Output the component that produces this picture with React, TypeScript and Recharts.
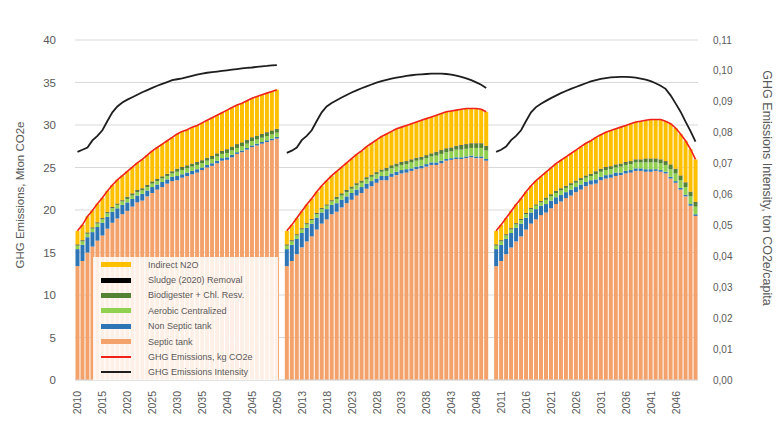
import { Bar, CartesianGrid, ComposedChart, Line, XAxis, YAxis } from "recharts";

const years = [
  2010, 2011, 2012, 2013, 2014, 2015, 2016, 2017, 2018, 2019,
  2020, 2021, 2022, 2023, 2024, 2025, 2026, 2027, 2028, 2029,
  2030, 2031, 2032, 2033, 2034, 2035, 2036, 2037, 2038, 2039,
  2040, 2041, 2042, 2043, 2044, 2045, 2046, 2047, 2048, 2049, 2050
];

// shared by the three scenarios (same reading in each panel)
const nonSeptic = [
  2.0, 1.9, 1.8, 1.7, 1.6, 1.5, 1.4, 1.3, 1.2, 1.1,
  1.0, 0.9, 0.8, 0.8, 0.7, 0.7, 0.6, 0.6, 0.5, 0.5,
  0.5, 0.4, 0.4, 0.4, 0.4, 0.3, 0.3, 0.3, 0.3, 0.3,
  0.3, 0.3, 0.2, 0.2, 0.2, 0.2, 0.2, 0.2, 0.2, 0.2, 0.2
];
const sludge = [
  0.05, 0.05, 0.05, 0.05, 0.05, 0.05, 0.05, 0.05, 0.05, 0.05,
  0.05, 0.05, 0.05, 0.05, 0.05, 0.05, 0.05, 0.05, 0.05, 0.05,
  0.05, 0.05, 0.05, 0.05, 0.05, 0.05, 0.05, 0.05, 0.05, 0.05,
  0.05, 0.05, 0.05, 0.05, 0.05, 0.05, 0.05, 0.05, 0.05, 0.05, 0.05
];

// scenario 1
const septic1 = [
  13.4, 14.0, 15.0, 15.7, 16.4, 17.0, 17.8, 18.5, 19.0, 19.5,
  19.9, 20.4, 20.9, 21.1, 21.6, 22.0, 22.4, 22.7, 23.1, 23.4,
  23.5, 23.8, 24.0, 24.2, 24.4, 24.7, 25.0, 25.2, 25.5, 25.8,
  25.9, 26.2, 26.6, 26.8, 27.1, 27.4, 27.6, 27.8, 28.0, 28.2, 28.4
];
const aerobic1 = [
  0.4, 0.4, 0.4, 0.4, 0.4, 0.4, 0.4, 0.4, 0.4, 0.4,
  0.4, 0.4, 0.4, 0.4, 0.4, 0.4, 0.4, 0.4, 0.4, 0.4,
  0.5, 0.5, 0.5, 0.5, 0.5, 0.5, 0.5, 0.5, 0.5, 0.5,
  0.5, 0.5, 0.5, 0.5, 0.5, 0.5, 0.5, 0.5, 0.5, 0.5, 0.5
];
const biodigester1 = [
  0.1, 0.1, 0.1, 0.1, 0.1, 0.1, 0.1, 0.1, 0.1, 0.1,
  0.2, 0.2, 0.2, 0.2, 0.2, 0.2, 0.2, 0.2, 0.2, 0.2,
  0.3, 0.3, 0.3, 0.3, 0.3, 0.3, 0.3, 0.3, 0.3, 0.3,
  0.4, 0.4, 0.4, 0.4, 0.4, 0.4, 0.4, 0.4, 0.4, 0.4, 0.4
];
const indirect1 = [
  1.6, 1.8, 1.9, 2.0, 2.2, 2.4, 2.5, 2.6, 2.8, 2.9,
  3.0, 3.1, 3.2, 3.4, 3.5, 3.6, 3.7, 3.8, 3.9, 4.0,
  4.1, 4.2, 4.2, 4.3, 4.3, 4.4, 4.4, 4.5, 4.5, 4.5,
  4.6, 4.6, 4.6, 4.6, 4.6, 4.6, 4.6, 4.6, 4.6, 4.6, 4.6
];
const intensity1 = [
  0.0738, 0.0745, 0.0752, 0.0775, 0.079, 0.0808, 0.0838, 0.0866, 0.0885, 0.0898,
  0.0907, 0.0915, 0.0923, 0.0931, 0.0938, 0.0945, 0.0952, 0.0958, 0.0964, 0.097,
  0.0973, 0.0976, 0.098, 0.0984, 0.0988, 0.0991, 0.0994, 0.0996, 0.0998, 0.1,
  0.1002, 0.1004, 0.1006, 0.1008, 0.101, 0.1011, 0.1013, 0.1015, 0.1016, 0.1018, 0.1019
];

// scenario 2
const septic2 = [
  13.4, 14.0, 14.8, 15.6, 16.3, 16.9, 17.7, 18.4, 18.9, 19.5,
  19.8, 20.3, 20.8, 21.2, 21.7, 22.0, 22.5, 22.8, 23.2, 23.5,
  23.5, 23.9, 24.1, 24.3, 24.4, 24.6, 24.8, 24.9, 25.1, 25.3,
  25.3, 25.5, 25.8, 25.9, 26.0, 26.0, 26.1, 26.2, 26.1, 26.1, 25.8
];
const aerobic2 = [
  0.4, 0.4, 0.4, 0.4, 0.4, 0.4, 0.4, 0.4, 0.4, 0.4,
  0.5, 0.5, 0.5, 0.5, 0.5, 0.5, 0.5, 0.5, 0.5, 0.5,
  0.6, 0.6, 0.6, 0.6, 0.6, 0.7, 0.7, 0.7, 0.7, 0.7,
  0.8, 0.8, 0.8, 0.8, 0.9, 0.9, 0.9, 0.9, 1.0, 1.0, 1.0
];
const biodigester2 = [
  0.1, 0.1, 0.1, 0.1, 0.1, 0.1, 0.1, 0.1, 0.1, 0.1,
  0.2, 0.2, 0.2, 0.2, 0.2, 0.2, 0.2, 0.2, 0.2, 0.2,
  0.3, 0.3, 0.3, 0.3, 0.3, 0.3, 0.3, 0.3, 0.3, 0.3,
  0.4, 0.4, 0.4, 0.4, 0.4, 0.5, 0.5, 0.5, 0.5, 0.5, 0.5
];
const indirect2 = [
  1.6, 1.8, 1.9, 2.0, 2.2, 2.4, 2.5, 2.6, 2.8, 2.9,
  3.0, 3.1, 3.2, 3.3, 3.4, 3.5, 3.6, 3.7, 3.8, 3.9,
  4.0, 4.0, 4.1, 4.1, 4.2, 4.2, 4.2, 4.3, 4.3, 4.3,
  4.3, 4.3, 4.3, 4.3, 4.2, 4.2, 4.2, 4.1, 4.1, 4.0, 4.0
];
const intensity2 = [
  0.0735, 0.0742, 0.0752, 0.0776, 0.079, 0.0808, 0.0838, 0.0866, 0.0885, 0.0896,
  0.0905, 0.0914, 0.0922, 0.093, 0.0937, 0.0944, 0.095, 0.0956, 0.0962, 0.0967,
  0.0971, 0.0975, 0.0978, 0.0981, 0.0984, 0.0986, 0.0988, 0.0989, 0.099, 0.0991,
  0.0991, 0.0991, 0.099, 0.0988, 0.0985, 0.0981, 0.0976, 0.097, 0.0963, 0.0955, 0.0945
];

// scenario 3
const septic3 = [
  13.4, 14.0, 14.8, 15.6, 16.3, 16.9, 17.7, 18.4, 18.9, 19.4,
  19.7, 20.2, 20.7, 21.0, 21.4, 21.7, 22.1, 22.4, 22.8, 23.0,
  23.1, 23.5, 23.7, 23.8, 24.0, 24.1, 24.3, 24.4, 24.6, 24.6,
  24.5, 24.5, 24.6, 24.5, 24.3, 23.7, 23.2, 22.4, 21.6, 20.5, 19.3
];
const aerobic3 = [
  0.4, 0.4, 0.4, 0.4, 0.4, 0.4, 0.4, 0.4, 0.4, 0.4,
  0.5, 0.5, 0.5, 0.5, 0.5, 0.5, 0.5, 0.5, 0.5, 0.5,
  0.6, 0.6, 0.6, 0.6, 0.6, 0.7, 0.7, 0.7, 0.7, 0.7,
  0.8, 0.8, 0.8, 0.8, 0.8, 0.9, 0.9, 0.9, 0.9, 0.9, 0.9
];
const biodigester3 = [
  0.1, 0.1, 0.1, 0.1, 0.1, 0.1, 0.1, 0.1, 0.1, 0.1,
  0.2, 0.2, 0.2, 0.2, 0.2, 0.2, 0.2, 0.2, 0.2, 0.2,
  0.3, 0.3, 0.3, 0.3, 0.3, 0.3, 0.3, 0.3, 0.3, 0.3,
  0.4, 0.4, 0.4, 0.4, 0.4, 0.5, 0.5, 0.5, 0.5, 0.5, 0.5
];
const indirect3 = [
  1.6, 1.8, 1.9, 2.0, 2.2, 2.4, 2.5, 2.6, 2.8, 2.9,
  3.0, 3.1, 3.2, 3.3, 3.4, 3.5, 3.6, 3.7, 3.8, 3.9,
  4.0, 4.0, 4.1, 4.2, 4.2, 4.3, 4.3, 4.4, 4.4, 4.5,
  4.5, 4.6, 4.6, 4.7, 4.7, 4.8, 4.8, 4.9, 4.9, 5.0, 5.0
];
const intensity3 = [
  0.0738, 0.0745, 0.0755, 0.0776, 0.079, 0.0808, 0.0838, 0.0866, 0.0883, 0.0894,
  0.0903, 0.0912, 0.092, 0.0928, 0.0935, 0.0942, 0.0948, 0.0954, 0.096, 0.0966,
  0.097, 0.0974, 0.0977, 0.0979, 0.098, 0.0981, 0.0981, 0.098, 0.0978, 0.0975,
  0.0972, 0.0967, 0.096, 0.0952, 0.0942, 0.0921, 0.0895, 0.0868, 0.0836, 0.0805, 0.0771
];

const leftTicks = [0, 5, 10, 15, 20, 25, 30, 35, 40];
const rightTicks = [0, 0.01, 0.02, 0.03, 0.04, 0.05, 0.06, 0.07, 0.08, 0.09, 0.1, 0.11];

const colors = {
  septic: "#F4A26B",
  nonSeptic: "#2E75B6",
  aerobic: "#92D050",
  biodigester: "#548235",
  sludge: "#000000",
  indirect: "#FFC000",
  total: "#F0201A",
  intensity: "#1E1E1E"
};

const legendItems = [
  { name: "Indirect N2O", color: colors.indirect, kind: "bar" },
  { name: "Sludge (2020) Removal", color: colors.sludge, kind: "bar" },
  { name: "Biodigester + Chl. Resv.", color: colors.biodigester, kind: "bar" },
  { name: "Aerobic Centralized", color: colors.aerobic, kind: "bar" },
  { name: "Non Septic tank", color: colors.nonSeptic, kind: "bar" },
  { name: "Septic tank", color: colors.septic, kind: "bar" },
  { name: "GHG Emissions, kg CO2e", color: colors.total, kind: "line" },
  { name: "GHG Emissions Intensity", color: colors.intensity, kind: "line" }
];

const scenarios = [
  { id: "s1", septic: septic1, aerobic: aerobic1, biodigester: biodigester1, indirect: indirect1, intensity: intensity1 },
  { id: "s2", septic: septic2, aerobic: aerobic2, biodigester: biodigester2, indirect: indirect2, intensity: intensity2 },
  { id: "s3", septic: septic3, aerobic: aerobic3, biodigester: biodigester3, indirect: indirect3, intensity: intensity3 }
];

// one flat category axis, with an empty category between the panels
const rows: any[] = [];
scenarios.forEach((s, si) => {
  if (si > 0) rows.push({ key: `gap-${si}` });
  years.forEach((year, i) => {
    const parts = [s.septic[i], nonSeptic[i], s.aerobic[i], s.biodigester[i], sludge[i], s.indirect[i]];
    rows.push({
      key: `${s.id}-${year}`,
      year,
      septic: s.septic[i],
      nonSeptic: nonSeptic[i],
      aerobic: s.aerobic[i],
      biodigester: s.biodigester[i],
      sludge: sludge[i],
      indirect: s.indirect[i],
      total: Number(parts.reduce((a, b) => a + b, 0).toFixed(2)),
      intensity: s.intensity[i]
    });
  });
});

const tickKeys = rows.filter((_, i) => i % 5 === 0).map((r) => r.key);
const yearByKey: Record<string, number> = Object.fromEntries(rows.map((r) => [r.key, r.year]));

const FONT = "'Liberation Sans', Arial, sans-serif";
const GREY = "#595959";

function YearTick(props: any) {
  const { x, y, payload } = props;
  return (
    <text
      x={x}
      y={y}
      transform={`rotate(-90 ${x} ${y})`}
      textAnchor="end"
      dominantBaseline="central"
      fontSize={10.5}
      fontFamily={FONT}
      fill={GREY}
    >
      {yearByKey[payload.value]}
    </text>
  );
}

export default function App() {
  return (
    <div style={{ position: "absolute", left: 0, top: 0, width: 777, height: 424, background: "#fff" }}>
      <ComposedChart
        width={777}
        height={424}
        data={rows}
        margin={{ top: 40, right: 0, bottom: 0, left: 0 }}
        barCategoryGap={0.5}
      >
        <CartesianGrid yAxisId="left" vertical={false} stroke="#D9D9D9" />
        <XAxis
          dataKey="key"
          ticks={tickKeys}
          interval={0}
          height={44}
          tickSize={0}
          tickMargin={11}
          tick={<YearTick />}
          axisLine={{ stroke: "#D9D9D9" }}
        />
        <YAxis
          yAxisId="left"
          width={75}
          domain={[0, 40]}
          ticks={leftTicks}
          tickSize={0}
          tickMargin={19}
          axisLine={false}
          tick={{ fontSize: 11.5, fill: GREY, fontFamily: FONT }}
        />
        <YAxis
          yAxisId="right"
          orientation="right"
          width={79}
          domain={[0, 0.11]}
          ticks={rightTicks}
          tickSize={0}
          tickMargin={15}
          axisLine={false}
          tickFormatter={(v: number) => v.toFixed(2).replace(".", ",")}
          tick={{ fontSize: 10, fill: GREY, fontFamily: FONT, textAnchor: "start" }}
        />
        <Bar yAxisId="left" dataKey="septic" stackId="a" fill={colors.septic} isAnimationActive={false} />
        <Bar yAxisId="left" dataKey="nonSeptic" stackId="a" fill={colors.nonSeptic} isAnimationActive={false} />
        <Bar yAxisId="left" dataKey="aerobic" stackId="a" fill={colors.aerobic} isAnimationActive={false} />
        <Bar yAxisId="left" dataKey="biodigester" stackId="a" fill={colors.biodigester} isAnimationActive={false} />
        <Bar yAxisId="left" dataKey="sludge" stackId="a" fill={colors.sludge} isAnimationActive={false} />
        <Bar yAxisId="left" dataKey="indirect" stackId="a" fill={colors.indirect} isAnimationActive={false} />
        <Line
          yAxisId="left"
          dataKey="total"
          type="linear"
          stroke={colors.total}
          strokeWidth={1.6}
          dot={false}
          isAnimationActive={false}
        />
        <Line
          yAxisId="right"
          dataKey="intensity"
          type="linear"
          stroke={colors.intensity}
          strokeWidth={1.8}
          dot={false}
          isAnimationActive={false}
        />
      </ComposedChart>

      <svg width={777} height={424} style={{ position: "absolute", left: 0, top: 0, pointerEvents: "none" }}>
        <text
          x={20}
          y={195}
          transform="rotate(-90 20 195)"
          textAnchor="middle"
          dominantBaseline="central"
          fontSize={11.5}
          fontFamily={FONT}
          fill={GREY}
        >
          GHG Emissions, Mton CO2e
        </text>
        <text
          x={767}
          y={188}
          transform="rotate(90 767 188)"
          textAnchor="middle"
          dominantBaseline="central"
          fontSize={12.5}
          fontFamily={FONT}
          fill={GREY}
        >
          GHG Emissions  Intensity, ton CO2e/capita
        </text>
      </svg>

      <div
        style={{
          position: "absolute",
          left: 93,
          top: 257,
          width: 185,
          height: 123,
          background: "rgba(255,255,255,0.84)",
          fontFamily: FONT,
          fontSize: 9,
          color: GREY
        }}
      >
        {legendItems.map((item) => (
          <div key={item.name} style={{ display: "flex", alignItems: "center", height: 15.4 }}>
            <span
              style={{
                display: "inline-block",
                marginLeft: 8,
                width: 30,
                height: item.kind === "bar" ? 5 : 2,
                background: item.color
              }}
            />
            <span style={{ marginLeft: 17, whiteSpace: "nowrap" }}>{item.name}</span>
          </div>
        ))}
      </div>
    </div>
  );
}
